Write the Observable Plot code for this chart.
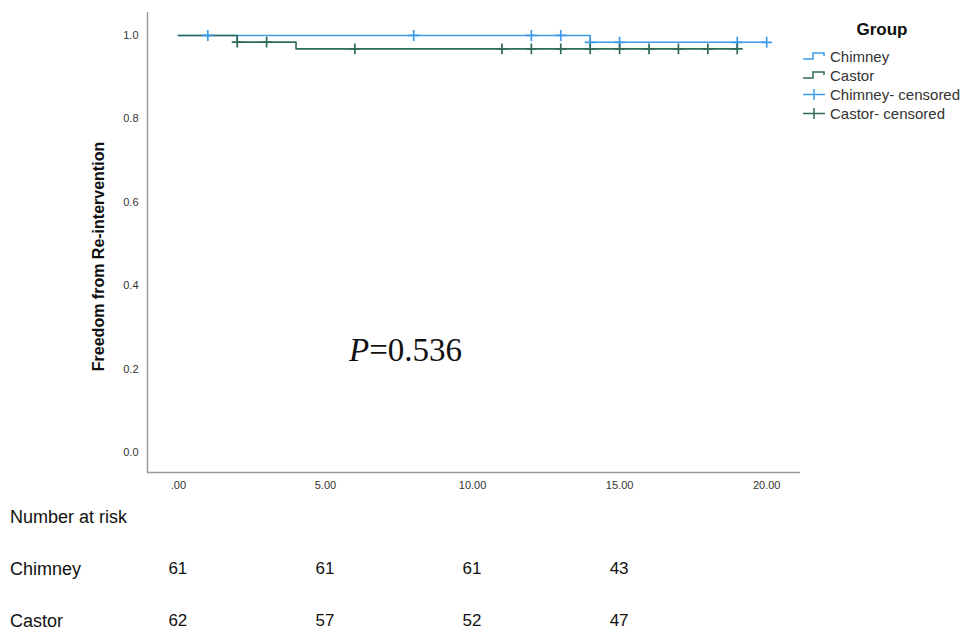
<!DOCTYPE html>
<html><head><meta charset="utf-8">
<script src="https://cdn.jsdelivr.net/npm/d3@7"></script>
<script src="https://cdn.jsdelivr.net/npm/@observablehq/plot@0.6"></script>
<style>
body{margin:0;background:#fff;font-family:"Liberation Sans",Arial,sans-serif;}
#wrap{position:relative;width:970px;height:634px;overflow:hidden;}
#wrap svg{position:absolute;left:0;top:0;}
.abs{position:absolute;white-space:nowrap;color:#111;}
.num{transform:translate(-50%,-50%);font-size:17px;}
.rowlab{transform:translateY(-50%);font-size:18px;left:10px;}
#legend{position:absolute;left:802px;top:20px;width:170px;font-size:15px;color:#333;}
#legend .title{font-weight:bold;font-size:17px;color:#111;text-align:center;width:160px;margin-bottom:7px;}
#legend .item{display:flex;align-items:center;height:19px;}
#legend svg{position:static;margin-right:3px;}
#pval{position:absolute;left:349px;top:332px;font-family:"Liberation Serif","Times New Roman",serif;font-size:33px;color:#111;}
</style></head><body><div id="wrap"></div>
<script>
const groups = ["Chimney", "Castor"];
const groupColors = ["#3d9be9", "#2e6b5a"];
const chimneyTimes = [0, 14, 20];
const chimneySurv = [1, 0.9836, 0.9836];
const castorTimes = [0, 2, 4, 19];
const castorSurv = [1, 0.9839, 0.9677, 0.9677];
const chimneyCensored = [1, 8, 12, 13, 14, 15, 19, 20];
const castorCensored = [2, 3, 6, 11, 12, 13, 14, 15, 16, 17, 18, 19];
const xTicks = [0, 5, 10, 15, 20];
const xTickLabels = [".00", "5.00", "10.00", "15.00", "20.00"];
const yTicks = [0, 0.2, 0.4, 0.6, 0.8, 1.0];
const yLabel = "Freedom from Re-intervention";
const riskTimes = [0, 5, 10, 15];
const chimneyAtRisk = [61, 61, 61, 43];
const castorAtRisk = [62, 57, 52, 47];
const pValue = "0.536";
const legendLabels = ["Chimney", "Castor", "Chimney- censored", "Castor- censored"];

function survAt(times, surv, t) {
  let s = surv[0];
  for (let i = 0; i < times.length; i++) if (times[i] <= t) s = surv[i];
  return s;
}
const curveData = [
  ...chimneyTimes.map((t, i) => ({group: "Chimney", t, s: chimneySurv[i]})),
  ...castorTimes.map((t, i) => ({group: "Castor", t, s: castorSurv[i]}))
];
const censorData = [
  ...chimneyCensored.map(t => ({group: "Chimney", t, s: survAt(chimneyTimes, chimneySurv, t)})),
  ...castorCensored.map(t => ({group: "Castor", t, s: survAt(castorTimes, castorSurv, t)}))
];
const xDomain = [-1.05, 21.15];
const yDomain = [-0.048, 1.055];

const plot = Plot.plot({
  width: 970, height: 500,
  marginLeft: 147, marginRight: 170, marginTop: 12, marginBottom: 28,
  style: {fontFamily: "Liberation Sans, Arial, sans-serif", fontSize: "11px", color: "#333", background: "transparent"},
  x: {domain: xDomain},
  y: {domain: yDomain},
  color: {domain: groups, range: groupColors},
  marks: [
    Plot.ruleX([xDomain[0]], {stroke: "#9a9a9a", strokeWidth: 1.5}),
    Plot.ruleY([yDomain[0]], {stroke: "#9a9a9a", strokeWidth: 1.5}),
    Plot.axisX({ticks: xTicks, tickFormat: (d) => xTickLabels[xTicks.indexOf(d)], tickSize: 0, tickPadding: 9, label: null}),
    Plot.axisY({ticks: yTicks, tickFormat: d => d.toFixed(1), tickSize: 0, tickPadding: 9, label: null}),
    Plot.text([yLabel], {text: d => d, frameAnchor: "left", textAnchor: "middle", dx: -49, dy: 14, rotate: -90, fontSize: 16, fontWeight: "bold", fill: "#111"}),
    Plot.line(curveData, {x: "t", y: "s", z: "group", stroke: "group", curve: "step-after", strokeWidth: 1.6}),
    Plot.dot(censorData, {x: "t", y: "s", stroke: "group", symbol: "plus", r: 3.6, strokeWidth: 1.7})
  ]
});
const wrap = document.getElementById("wrap");
wrap.appendChild(plot);

const xs = plot.scale("x");
function addText(txt, cls, left, top) {
  const d = document.createElement("div");
  d.className = "abs " + cls;
  if (left != null) d.style.left = left + "px";
  d.style.top = top + "px";
  d.textContent = txt;
  wrap.appendChild(d);
}
addText("Number at risk", "rowlab", null, 517);
addText("Chimney", "rowlab", null, 569);
addText("Castor", "rowlab", null, 621);
riskTimes.forEach((t, i) => {
  addText(String(chimneyAtRisk[i]), "num", xs.apply(t), 569);
  addText(String(castorAtRisk[i]), "num", xs.apply(t), 621);
});

const pv = document.createElement("div");
pv.id = "pval";
pv.innerHTML = "<i>P</i>=" + pValue;
wrap.appendChild(pv);

const lg = document.createElement("div");
lg.id = "legend";
let html = '<div class="title">Group</div>';
legendLabels.forEach((lab, i) => {
  const c = groupColors[i % 2];
  const sym = i < 2
    ? `<path d="M1,9 H11 V3 H22 V6" fill="none" stroke="${c}" stroke-width="1.5"/>`
    : `<path d="M1,6.5 H23 M12,1 V12" fill="none" stroke="${c}" stroke-width="1.5"/>`;
  html += `<div class="item"><svg width="25" height="13">${sym}</svg><span>${lab}</span></div>`;
});
lg.innerHTML = html;
wrap.appendChild(lg);
</script>
</body></html>
